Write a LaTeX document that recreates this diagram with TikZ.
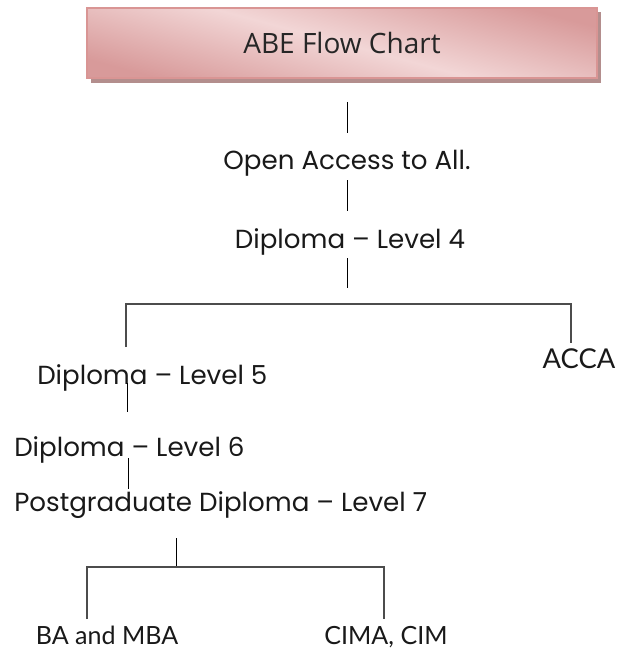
\documentclass[tikz,border=0pt]{standalone}
\usepackage{fontspec}
\setmainfont{Poppins}
\newfontfamily\titlefont{Open Sans}
\newfontfamily\gillfont{Lato}
\usetikzlibrary{shadows}

\definecolor{boxedge}{HTML}{D99594}
\definecolor{boxdark}{HTML}{D89A9A}
\definecolor{boxlight}{HTML}{F2D6D6}
\definecolor{boxshadow}{HTML}{B38E8D}

\begin{document}
\begin{tikzpicture}[x=0.75pt, y=-0.75pt,
  titlebox/.style={draw=boxedge, line width=1.5pt, minimum width=383pt, minimum height=53pt,
    top color=boxdark, bottom color=boxdark, middle color=boxlight, shading angle=-15,
    drop shadow={shadow xshift=3pt, shadow yshift=-3.5pt, fill=boxshadow, opacity=1},
    font=\titlefont\fontsize{21}{24}\selectfont, text=black!85},
  level/.style={anchor=base, inner sep=0pt, font=\fontsize{19.6}{22}\selectfont, text=black!90},
  award/.style={anchor=base, inner sep=0pt, font=\gillfont\fontsize{18.8}{21}\selectfont, text=black!90},
  stem/.style={black, line width=0.75pt},
  bracket/.style={black!70, line width=1pt}]
  \useasboundingbox (0,0) rectangle (618,649);

  \node[titlebox] (title) at (342,43) {ABE Flow Chart};

  \node[level] (open) at (347,170) {Open Access to All.};
  \node[level] (dipfour) at (350,248) {Diploma -- Level 4};
  \node[level, anchor=base west] (dipfive) at (37,384) {Diploma -- Level 5};
  \node[level, anchor=base west] (dipsix) at (14,456) {Diploma -- Level 6};
  \node[level, anchor=base west] (postgrad) at (14,511) {Postgraduate Diploma -- Level 7};
  \node[award, font=\gillfont\fontsize{20.5}{22}\selectfont] (acca) at (579,368) {ACCA};
  \node[award] (bamba) at (107,644) {BA and MBA};
  \node[award] (cima) at (386,644) {CIMA, CIM};

  % stems
  \coordinate (s1) at (347,102);
  \coordinate (s2) at (347,180);
  \coordinate (s3) at (347,258);
  \draw[stem] (s1) -- ++(0,31);
  \draw[stem] (s2) -- ++(0,31);
  \draw[stem] (s3) -- ++(0,30);

  % first split
  \coordinate (splitL) at (126,304);
  \coordinate (splitR) at (571,304);
  \draw[bracket] (126,347) -- (splitL) -- (splitR) -- (571,343);

  \coordinate (s4) at (127,383);
  \coordinate (s5) at (128,458);
  \coordinate (s6) at (176,538);
  \draw[stem] (s4) -- ++(0,29);
  \draw[stem] (s5) -- ++(0,31);
  \draw[stem] (s6) -- ++(0,29);

  % second split
  \coordinate (endL) at (87,567);
  \coordinate (endR) at (384,567);
  \draw[bracket] (87,619) -- (endL) -- (endR) -- (384,619);
\end{tikzpicture}
\end{document}
